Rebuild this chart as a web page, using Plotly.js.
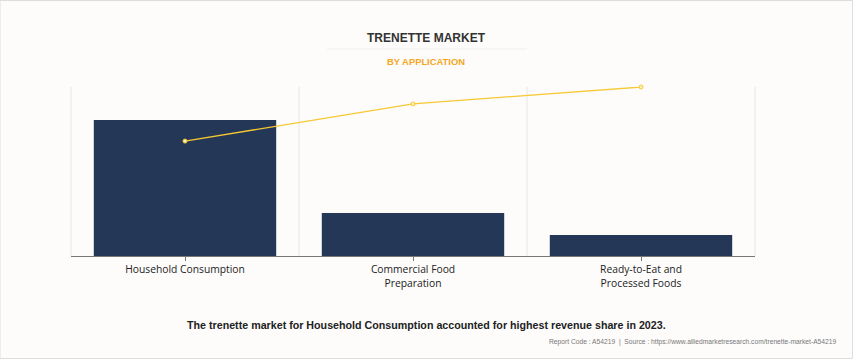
<!DOCTYPE html>
<html>
<head>
<meta charset="utf-8">
<script src="https://cdn.plot.ly/plotly-3.0.1.min.js"></script>
<style>
html,body{margin:0;padding:0;background:#fdfcfb;}
#chart{width:853px;height:359px;}
</style>
</head>
<body>
<div id="chart"></div>
<script>
const categories = ["Household Consumption", "Commercial Food<br>Preparation", "Ready-to-Eat and<br>Processed Foods"];
const barValues = [80.5, 25.4, 12.4];
const lineValues = [68, 90, 100];

const traces = [
  {
    type: "bar",
    x: categories,
    y: barValues,
    marker: {color: "#253757"},
    width: 0.8,
    hoverinfo: "skip"
  },
  {
    type: "scatter",
    mode: "lines+markers",
    x: categories,
    y: lineValues,
    yaxis: "y2",
    line: {color: "#f7c832", width: 1.3},
    marker: {size: 4, color: "#fff3b0", line: {color: "#f7c832", width: 1}},
    cliponaxis: false,
    hoverinfo: "skip"
  }
];

const layout = {
  width: 853,
  height: 359,
  paper_bgcolor: "#fdfcfb",
  plot_bgcolor: "#fdfcfb",
  showlegend: false,
  margin: {l: 71, r: 98, t: 87, b: 103},
  bargap: 0.2,
  xaxis: {
    type: "category",
    showgrid: false,
    showline: true,
    linecolor: "#777",
    linewidth: 1,
    ticks: "outside",
    ticklen: 4,
    tickcolor: "#777",
    tickfont: {family: "Open Sans, DejaVu Sans, sans-serif", size: 10.3, color: "#222"},
    fixedrange: true
  },
  yaxis: {
    range: [0, 100],
    showgrid: false,
    showticklabels: false,
    zeroline: false,
    fixedrange: true
  },
  yaxis2: {
    range: [0, 100],
    overlaying: "y",
    side: "right",
    showgrid: false,
    showticklabels: false,
    zeroline: false,
    fixedrange: true
  },
  shapes: [
    {type: "line", xref: "paper", yref: "paper", x0: 0, x1: 0, y0: 0, y1: 1, line: {color: "#e6e6e6", width: 1}, layer: "below"},
    {type: "line", xref: "paper", yref: "paper", x0: 1/3, x1: 1/3, y0: 0, y1: 1, line: {color: "#e6e6e6", width: 1}, layer: "below"},
    {type: "line", xref: "paper", yref: "paper", x0: 2/3, x1: 2/3, y0: 0, y1: 1, line: {color: "#e6e6e6", width: 1}, layer: "below"},
    {type: "line", xref: "paper", yref: "paper", x0: 1, x1: 1, y0: 0, y1: 1, line: {color: "#e6e6e6", width: 1}, layer: "below"},
    {type: "line", xref: "paper", yref: "paper", x0: 256/684, x1: 456/684, y0: 1 + 38/169, y1: 1 + 38/169, line: {color: "#efefef", width: 1}},
    {type: "rect", xref: "paper", yref: "paper", x0: -71/684, x1: 1 + 97.5/684, y0: -102.5/169, y1: 1 + 86.5/169, line: {color: "#dddddd", width: 1}}
  ],
  annotations: [
    {text: "<b>TRENETTE MARKET</b>", xref: "paper", yref: "paper", x: 355/684, y: 1 + 49/169, xanchor: "center", yanchor: "middle", showarrow: false,
     font: {family: "Arial, Liberation Sans, sans-serif", size: 12, color: "#333"}},
    {text: "<b>BY APPLICATION</b>", xref: "paper", yref: "paper", x: 355/684, y: 1 + 25/169, xanchor: "center", yanchor: "middle", showarrow: false,
     font: {family: "Arial, Liberation Sans, sans-serif", size: 9.4, color: "#f5a623"}},
    {text: "<b>The trenette market for Household Consumption accounted for highest revenue share in 2023.</b>", xref: "paper", yref: "paper", x: 355/684, y: -69/169, xanchor: "center", yanchor: "middle", showarrow: false,
     font: {family: "Arial, Liberation Sans, sans-serif", size: 10.7, color: "#222"}},
    {text: "Report Code : A54219  |  Source : https://www.alliedmarketresearch.com/trenette-market-A54219", xref: "paper", yref: "paper", x: 1 + 83/684, y: -86/169, xanchor: "right", yanchor: "middle", showarrow: false,
     font: {family: "Arial, Liberation Sans, sans-serif", size: 6.7, color: "#777"}}
  ]
};

Plotly.newPlot("chart", traces, layout, {displayModeBar: false, staticPlot: true});
</script>
</body>
</html>
